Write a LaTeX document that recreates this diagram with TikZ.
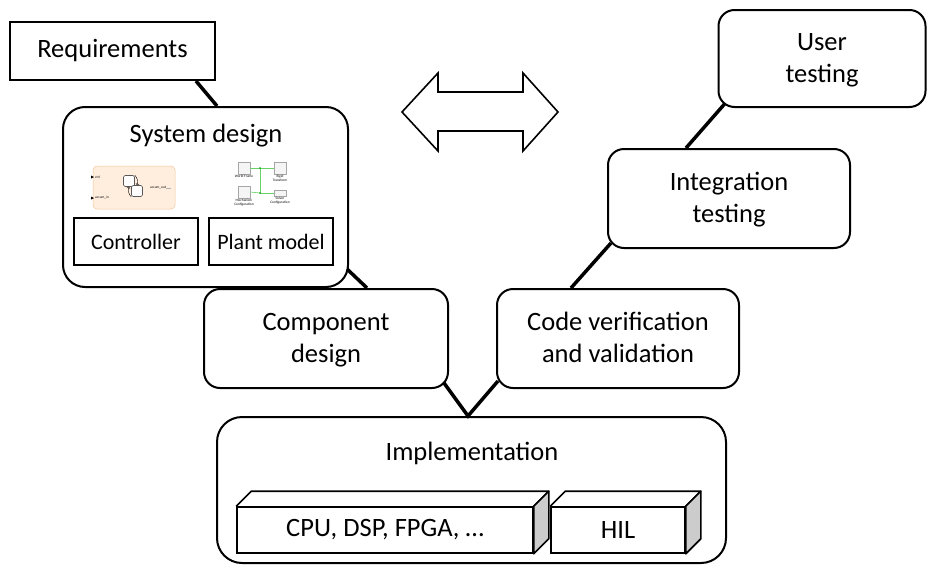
\documentclass[tikz,border=0pt]{standalone}
\usepackage{fontspec}
\setmainfont{Carlito}
\usetikzlibrary{calc,positioning}
\begin{document}
\begin{tikzpicture}[x=1pt,y=-1pt,font=\fontsize{26.5}{32}\selectfont,
    box/.style={draw,line width=2pt,inner sep=0pt,align=center},
    phase/.style={box,rounded corners=16pt,text depth=2pt},
    link/.style={line width=3.5pt},
    part/.style={box,font=\fontsize{22}{26}\selectfont,minimum width=124,minimum height=47},
    cube/.style={draw,line width=1.6pt,inner sep=0pt,minimum height=46},
    tiny/.style={font=\fontsize{3.5}{4}\selectfont,inner sep=0pt},
    blk/.style={draw=gray!70,fill=gray!8,line width=0.4pt,inner sep=0pt,minimum size=12},
    wire/.style={green!70!black!60,line width=0.6pt}]
    \useasboundingbox (0,0) rectangle (928,565);

    \node[box,minimum width=205,minimum height=58] (req) at (112.5,51){Requirements};
    \node[phase,rounded corners=22pt,minimum width=285,minimum height=180] (sysdes) at (205.5,197){};
    \node (sysdestitle) at (206,136){System design};
    \node[part] (ctrl) at (136,241.5){Controller};
    \node[part] (plant) at (271,241.5){Plant model};
    \node[phase,minimum width=244,minimum height=99] (comp) at (326,338.5){Component\\design};
    \node[phase,minimum width=242,minimum height=99] (code) at (618,338.5){Code verification\\and validation};
    \node[phase,minimum width=242,minimum height=99] (integ) at (729,198.5){Integration\\testing};
    \node[phase,minimum width=207,minimum height=97] (user) at (822,58.5){User\\testing};
    \node[phase,rounded corners=25pt,minimum width=509,minimum height=146] (impl) at (471.5,490){};
    \node (impltitle) at (472,453){Implementation};

    % hardware boxes
    \node[cube,minimum width=296] (cpu) at (385,530){CPU, DSP, FPGA, \dots};
    \node[cube,minimum width=134] (hil) at (618,530){HIL};
    \foreach \hw in {cpu,hil}{
        \draw[line width=1.6pt,line join=round] (\hw.north west) -- ++(15,-15) -- ($(\hw.north east)+(15,-15)$) -- (\hw.north east);
        \draw[line width=1.6pt,line join=round,fill=gray!40] (\hw.north east) -- ++(15,-15) -- ($(\hw.south east)+(15,-15)$) -- (\hw.south east) -- cycle;
    }

    % controller chart
    \node[draw=orange!60!brown!45,fill=orange!13,rounded corners=4pt,line width=0.5pt,minimum width=82,minimum height=43] (chart) at (134,187.5){};
    \fill (91,175.5) -- (94,177) -- (91,178.5) -- cycle;
    \fill (91,196.5) -- (94,198) -- (91,199.5) -- cycle;
    \node[tiny,anchor=west] (chartin1) at (95,177){ctrl};
    \node[tiny,anchor=west] (chartin2) at (95,198){accum\_in};
    \node[tiny,anchor=west] (chartout) at (150,188){accum\_out};
    \draw[gray!60,line width=0.4pt] (chartout.east) -- ++(5,0);
    \node[draw=gray!70!black,fill=white,rounded corners=1.5pt,line width=0.6pt,minimum size=11] (st1) at (129,181){};
    \node[draw=gray!70!black,fill=white,rounded corners=1.5pt,line width=0.6pt,minimum size=11] (st2) at (137,191){};
    \draw[->,line width=0.4pt] (st1.north east) to[bend left] (st2.north);
    \draw[->,line width=0.4pt] (st2.south west) to[bend left] (st1.south);

    % plant blocks
    \node[blk] (wf) at (244,168){};
    \node[blk] (rt) at (280,168){};
    \node[blk] (mc) at (244,192){};
    \node[blk,minimum height=6] (sc) at (280,193){};
    \draw[wire] (wf.east) -| (260,193) -- (sc.west);
    \draw[wire] (260,168) -- (rt.west);
    \draw[wire] (mc.east) -- (260,193);
    \fill[green!60!black] (260,168) circle (0.8) (260,193) circle (0.8);
    \node[tiny,below=0.6pt of wf.south] (wflabel) {World Frame};
    \node[tiny,below=0.6pt of rt.south,align=center] (rtlabel) {Rigid\\Transform};
    \node[tiny,below=0.6pt of mc.south,align=center] (mclabel) {Mechanism\\Configuration};
    \node[tiny,below=0.6pt of sc.south,align=center] (sclabel) {Solver\\Configuration};

    % double arrow
    \draw[line width=1.6pt] (402,112) -- (438,73) -- (438,92) -- (523,92) -- (523,73) -- (558,112)
        -- (523,151) -- (523,131) -- (438,131) -- (438,151) -- cycle;

    \coordinate (vtip) at ($(impl.north west)+(252,0)$);
    \draw[link] ($(req.south east)+(-20,0)$) -- ($(sysdes.north west)+(155,0)$);
    \draw[link] ($(sysdes.south east)+(-2,-19)$) -- ($(comp.north west)+(164,0)$);
    \draw[link] ($(comp.south east)+(-5,-6)$) -- (vtip) -- ($(code.south west)+(2,-8)$);
    \draw[link] ($(code.north west)+(75,0)$) -- ($(integ.south west)+(4,-6)$);
    \draw[link] ($(integ.north west)+(79,0)$) -- ($(user.south west)+(7,-4)$);
\end{tikzpicture}
\end{document}
